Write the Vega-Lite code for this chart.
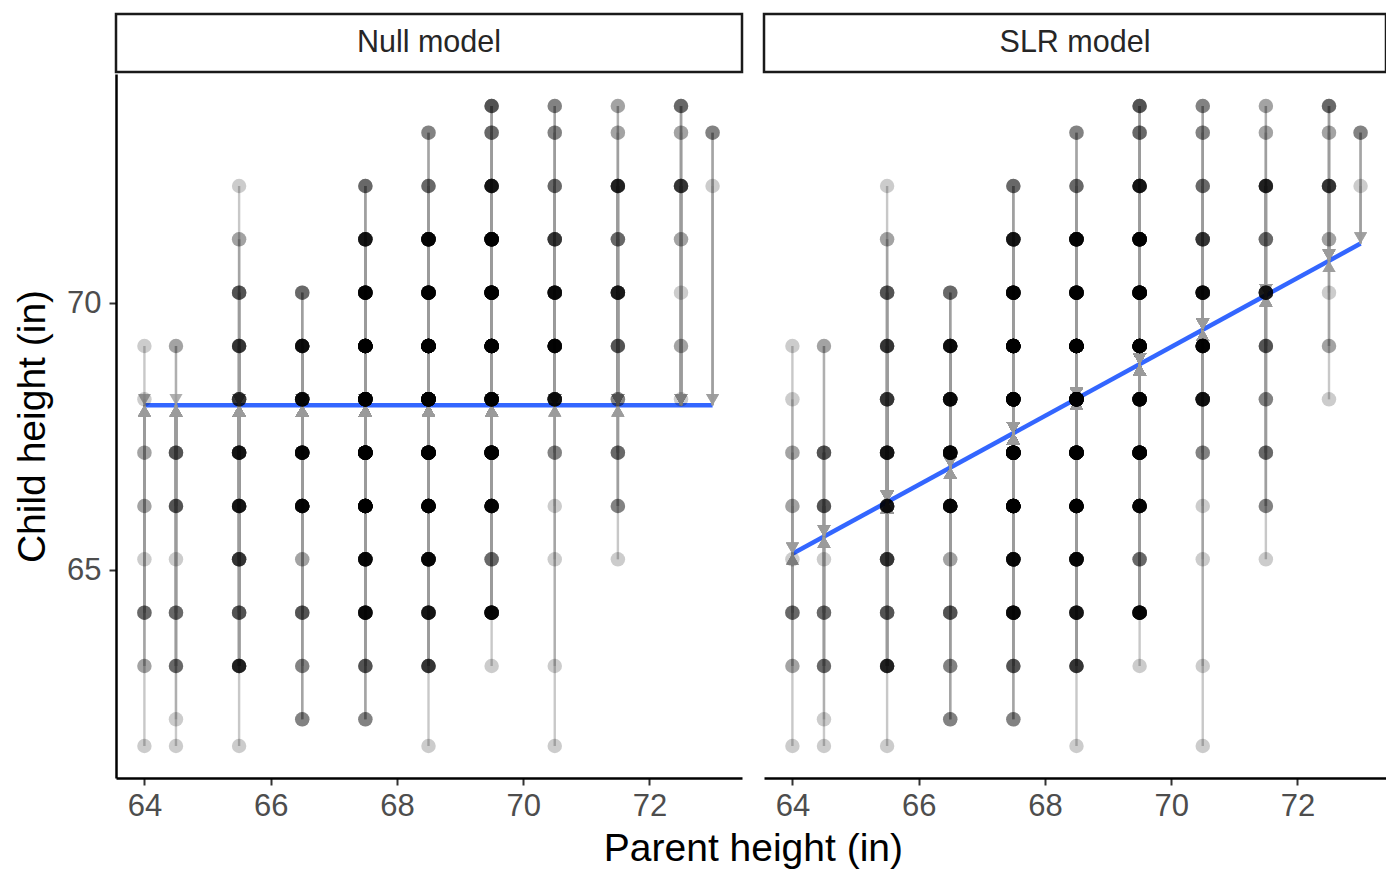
{
  "$schema": "https://vega.github.io/schema/vega-lite/v6.json",
  "background": "white",
  "padding": {"left": 13, "top": 12, "right": 0, "bottom": 0},
  "autosize": {"type": "pad"},
  "config": {
    "font": "Liberation Sans",
    "view": {"stroke": null},
    "concat": {"spacing": 18}
  },
  "title": {
    "text": "Parent height (in)",
    "orient": "bottom",
    "anchor": "middle",
    "fontSize": 39,
    "fontWeight": "normal",
    "color": "#000000",
    "offset": 9,
    "dx": 53
  },
  "datasets": {
    "galton": [
      {"parent":64,"child":69.2},
      {"parent":64,"child":68.2},
      {"parent":64,"child":67.2},{"parent":64,"child":67.2},
      {"parent":64,"child":66.2},{"parent":64,"child":66.2},
      {"parent":64,"child":65.2},
      {"parent":64,"child":64.2},{"parent":64,"child":64.2},{"parent":64,"child":64.2},{"parent":64,"child":64.2},
      {"parent":64,"child":63.2},{"parent":64,"child":63.2},
      {"parent":64,"child":61.7},

      {"parent":64.5,"child":69.2},{"parent":64.5,"child":69.2},
      {"parent":64.5,"child":67.2},{"parent":64.5,"child":67.2},{"parent":64.5,"child":67.2},{"parent":64.5,"child":67.2},{"parent":64.5,"child":67.2},
      {"parent":64.5,"child":66.2},{"parent":64.5,"child":66.2},{"parent":64.5,"child":66.2},{"parent":64.5,"child":66.2},{"parent":64.5,"child":66.2},
      {"parent":64.5,"child":65.2},
      {"parent":64.5,"child":64.2},{"parent":64.5,"child":64.2},{"parent":64.5,"child":64.2},{"parent":64.5,"child":64.2},
      {"parent":64.5,"child":63.2},{"parent":64.5,"child":63.2},{"parent":64.5,"child":63.2},{"parent":64.5,"child":63.2},
      {"parent":64.5,"child":62.2},
      {"parent":64.5,"child":61.7},

      {"parent":65.5,"child":72.2},
      {"parent":65.5,"child":71.2},{"parent":65.5,"child":71.2},
      {"parent":65.5,"child":70.2},{"parent":65.5,"child":70.2},{"parent":65.5,"child":70.2},{"parent":65.5,"child":70.2},{"parent":65.5,"child":70.2},
      {"parent":65.5,"child":69.2},{"parent":65.5,"child":69.2},{"parent":65.5,"child":69.2},{"parent":65.5,"child":69.2},{"parent":65.5,"child":69.2},
      {"parent":65.5,"child":69.2},{"parent":65.5,"child":69.2},
      {"parent":65.5,"child":68.2},{"parent":65.5,"child":68.2},{"parent":65.5,"child":68.2},{"parent":65.5,"child":68.2},{"parent":65.5,"child":68.2},
      {"parent":65.5,"child":68.2},{"parent":65.5,"child":68.2},
      {"parent":65.5,"child":67.2},{"parent":65.5,"child":67.2},{"parent":65.5,"child":67.2},{"parent":65.5,"child":67.2},{"parent":65.5,"child":67.2},
      {"parent":65.5,"child":67.2},{"parent":65.5,"child":67.2},{"parent":65.5,"child":67.2},{"parent":65.5,"child":67.2},{"parent":65.5,"child":67.2},
      {"parent":65.5,"child":67.2},
      {"parent":65.5,"child":66.2},{"parent":65.5,"child":66.2},{"parent":65.5,"child":66.2},{"parent":65.5,"child":66.2},{"parent":65.5,"child":66.2},
      {"parent":65.5,"child":66.2},{"parent":65.5,"child":66.2},{"parent":65.5,"child":66.2},{"parent":65.5,"child":66.2},{"parent":65.5,"child":66.2},
      {"parent":65.5,"child":66.2},
      {"parent":65.5,"child":65.2},{"parent":65.5,"child":65.2},{"parent":65.5,"child":65.2},{"parent":65.5,"child":65.2},{"parent":65.5,"child":65.2},
      {"parent":65.5,"child":65.2},{"parent":65.5,"child":65.2},
      {"parent":65.5,"child":64.2},{"parent":65.5,"child":64.2},{"parent":65.5,"child":64.2},{"parent":65.5,"child":64.2},{"parent":65.5,"child":64.2},
      {"parent":65.5,"child":63.2},{"parent":65.5,"child":63.2},{"parent":65.5,"child":63.2},{"parent":65.5,"child":63.2},{"parent":65.5,"child":63.2},
      {"parent":65.5,"child":63.2},{"parent":65.5,"child":63.2},{"parent":65.5,"child":63.2},{"parent":65.5,"child":63.2},
      {"parent":65.5,"child":61.7},

      {"parent":66.5,"child":70.2},{"parent":66.5,"child":70.2},{"parent":66.5,"child":70.2},{"parent":66.5,"child":70.2},
      {"parent":66.5,"child":69.2},{"parent":66.5,"child":69.2},{"parent":66.5,"child":69.2},{"parent":66.5,"child":69.2},{"parent":66.5,"child":69.2},
      {"parent":66.5,"child":69.2},{"parent":66.5,"child":69.2},{"parent":66.5,"child":69.2},{"parent":66.5,"child":69.2},{"parent":66.5,"child":69.2},
      {"parent":66.5,"child":69.2},{"parent":66.5,"child":69.2},{"parent":66.5,"child":69.2},
      {"parent":66.5,"child":68.2},{"parent":66.5,"child":68.2},{"parent":66.5,"child":68.2},{"parent":66.5,"child":68.2},{"parent":66.5,"child":68.2},
      {"parent":66.5,"child":68.2},{"parent":66.5,"child":68.2},{"parent":66.5,"child":68.2},{"parent":66.5,"child":68.2},{"parent":66.5,"child":68.2},
      {"parent":66.5,"child":68.2},{"parent":66.5,"child":68.2},{"parent":66.5,"child":68.2},{"parent":66.5,"child":68.2},
      {"parent":66.5,"child":67.2},{"parent":66.5,"child":67.2},{"parent":66.5,"child":67.2},{"parent":66.5,"child":67.2},{"parent":66.5,"child":67.2},
      {"parent":66.5,"child":67.2},{"parent":66.5,"child":67.2},{"parent":66.5,"child":67.2},{"parent":66.5,"child":67.2},{"parent":66.5,"child":67.2},
      {"parent":66.5,"child":67.2},{"parent":66.5,"child":67.2},{"parent":66.5,"child":67.2},{"parent":66.5,"child":67.2},{"parent":66.5,"child":67.2},
      {"parent":66.5,"child":67.2},{"parent":66.5,"child":67.2},
      {"parent":66.5,"child":66.2},{"parent":66.5,"child":66.2},{"parent":66.5,"child":66.2},{"parent":66.5,"child":66.2},{"parent":66.5,"child":66.2},
      {"parent":66.5,"child":66.2},{"parent":66.5,"child":66.2},{"parent":66.5,"child":66.2},{"parent":66.5,"child":66.2},{"parent":66.5,"child":66.2},
      {"parent":66.5,"child":66.2},{"parent":66.5,"child":66.2},{"parent":66.5,"child":66.2},{"parent":66.5,"child":66.2},{"parent":66.5,"child":66.2},
      {"parent":66.5,"child":66.2},{"parent":66.5,"child":66.2},
      {"parent":66.5,"child":65.2},{"parent":66.5,"child":65.2},
      {"parent":66.5,"child":64.2},{"parent":66.5,"child":64.2},{"parent":66.5,"child":64.2},{"parent":66.5,"child":64.2},{"parent":66.5,"child":64.2},
      {"parent":66.5,"child":63.2},{"parent":66.5,"child":63.2},{"parent":66.5,"child":63.2},
      {"parent":66.5,"child":62.2},{"parent":66.5,"child":62.2},{"parent":66.5,"child":62.2},

      {"parent":67.5,"child":72.2},{"parent":67.5,"child":72.2},{"parent":67.5,"child":72.2},{"parent":67.5,"child":72.2},
      {"parent":67.5,"child":71.2},{"parent":67.5,"child":71.2},{"parent":67.5,"child":71.2},{"parent":67.5,"child":71.2},{"parent":67.5,"child":71.2},
      {"parent":67.5,"child":71.2},{"parent":67.5,"child":71.2},{"parent":67.5,"child":71.2},{"parent":67.5,"child":71.2},{"parent":67.5,"child":71.2},
      {"parent":67.5,"child":71.2},
      {"parent":67.5,"child":70.2},{"parent":67.5,"child":70.2},{"parent":67.5,"child":70.2},{"parent":67.5,"child":70.2},{"parent":67.5,"child":70.2},
      {"parent":67.5,"child":70.2},{"parent":67.5,"child":70.2},{"parent":67.5,"child":70.2},{"parent":67.5,"child":70.2},{"parent":67.5,"child":70.2},
      {"parent":67.5,"child":70.2},{"parent":67.5,"child":70.2},{"parent":67.5,"child":70.2},{"parent":67.5,"child":70.2},{"parent":67.5,"child":70.2},
      {"parent":67.5,"child":70.2},{"parent":67.5,"child":70.2},{"parent":67.5,"child":70.2},{"parent":67.5,"child":70.2},
      {"parent":67.5,"child":69.2},{"parent":67.5,"child":69.2},{"parent":67.5,"child":69.2},{"parent":67.5,"child":69.2},{"parent":67.5,"child":69.2},
      {"parent":67.5,"child":69.2},{"parent":67.5,"child":69.2},{"parent":67.5,"child":69.2},{"parent":67.5,"child":69.2},{"parent":67.5,"child":69.2},
      {"parent":67.5,"child":69.2},{"parent":67.5,"child":69.2},{"parent":67.5,"child":69.2},{"parent":67.5,"child":69.2},{"parent":67.5,"child":69.2},
      {"parent":67.5,"child":69.2},{"parent":67.5,"child":69.2},{"parent":67.5,"child":69.2},{"parent":67.5,"child":69.2},{"parent":67.5,"child":69.2},
      {"parent":67.5,"child":69.2},{"parent":67.5,"child":69.2},{"parent":67.5,"child":69.2},{"parent":67.5,"child":69.2},{"parent":67.5,"child":69.2},
      {"parent":67.5,"child":69.2},{"parent":67.5,"child":69.2},{"parent":67.5,"child":69.2},{"parent":67.5,"child":69.2},{"parent":67.5,"child":69.2},
      {"parent":67.5,"child":69.2},{"parent":67.5,"child":69.2},{"parent":67.5,"child":69.2},{"parent":67.5,"child":69.2},{"parent":67.5,"child":69.2},
      {"parent":67.5,"child":69.2},{"parent":67.5,"child":69.2},{"parent":67.5,"child":69.2},
      {"parent":67.5,"child":68.2},{"parent":67.5,"child":68.2},{"parent":67.5,"child":68.2},{"parent":67.5,"child":68.2},{"parent":67.5,"child":68.2},
      {"parent":67.5,"child":68.2},{"parent":67.5,"child":68.2},{"parent":67.5,"child":68.2},{"parent":67.5,"child":68.2},{"parent":67.5,"child":68.2},
      {"parent":67.5,"child":68.2},{"parent":67.5,"child":68.2},{"parent":67.5,"child":68.2},{"parent":67.5,"child":68.2},{"parent":67.5,"child":68.2},
      {"parent":67.5,"child":68.2},{"parent":67.5,"child":68.2},{"parent":67.5,"child":68.2},{"parent":67.5,"child":68.2},{"parent":67.5,"child":68.2},
      {"parent":67.5,"child":68.2},{"parent":67.5,"child":68.2},{"parent":67.5,"child":68.2},{"parent":67.5,"child":68.2},{"parent":67.5,"child":68.2},
      {"parent":67.5,"child":68.2},{"parent":67.5,"child":68.2},{"parent":67.5,"child":68.2},
      {"parent":67.5,"child":67.2},{"parent":67.5,"child":67.2},{"parent":67.5,"child":67.2},{"parent":67.5,"child":67.2},{"parent":67.5,"child":67.2},
      {"parent":67.5,"child":67.2},{"parent":67.5,"child":67.2},{"parent":67.5,"child":67.2},{"parent":67.5,"child":67.2},{"parent":67.5,"child":67.2},
      {"parent":67.5,"child":67.2},{"parent":67.5,"child":67.2},{"parent":67.5,"child":67.2},{"parent":67.5,"child":67.2},{"parent":67.5,"child":67.2},
      {"parent":67.5,"child":67.2},{"parent":67.5,"child":67.2},{"parent":67.5,"child":67.2},{"parent":67.5,"child":67.2},{"parent":67.5,"child":67.2},
      {"parent":67.5,"child":67.2},{"parent":67.5,"child":67.2},{"parent":67.5,"child":67.2},{"parent":67.5,"child":67.2},{"parent":67.5,"child":67.2},
      {"parent":67.5,"child":67.2},{"parent":67.5,"child":67.2},{"parent":67.5,"child":67.2},{"parent":67.5,"child":67.2},{"parent":67.5,"child":67.2},
      {"parent":67.5,"child":67.2},{"parent":67.5,"child":67.2},{"parent":67.5,"child":67.2},{"parent":67.5,"child":67.2},{"parent":67.5,"child":67.2},
      {"parent":67.5,"child":67.2},{"parent":67.5,"child":67.2},{"parent":67.5,"child":67.2},
      {"parent":67.5,"child":66.2},{"parent":67.5,"child":66.2},{"parent":67.5,"child":66.2},{"parent":67.5,"child":66.2},{"parent":67.5,"child":66.2},
      {"parent":67.5,"child":66.2},{"parent":67.5,"child":66.2},{"parent":67.5,"child":66.2},{"parent":67.5,"child":66.2},{"parent":67.5,"child":66.2},
      {"parent":67.5,"child":66.2},{"parent":67.5,"child":66.2},{"parent":67.5,"child":66.2},{"parent":67.5,"child":66.2},{"parent":67.5,"child":66.2},
      {"parent":67.5,"child":66.2},{"parent":67.5,"child":66.2},{"parent":67.5,"child":66.2},{"parent":67.5,"child":66.2},{"parent":67.5,"child":66.2},
      {"parent":67.5,"child":66.2},{"parent":67.5,"child":66.2},{"parent":67.5,"child":66.2},{"parent":67.5,"child":66.2},{"parent":67.5,"child":66.2},
      {"parent":67.5,"child":66.2},{"parent":67.5,"child":66.2},{"parent":67.5,"child":66.2},{"parent":67.5,"child":66.2},{"parent":67.5,"child":66.2},
      {"parent":67.5,"child":66.2},{"parent":67.5,"child":66.2},{"parent":67.5,"child":66.2},{"parent":67.5,"child":66.2},{"parent":67.5,"child":66.2},
      {"parent":67.5,"child":66.2},
      {"parent":67.5,"child":65.2},{"parent":67.5,"child":65.2},{"parent":67.5,"child":65.2},{"parent":67.5,"child":65.2},{"parent":67.5,"child":65.2},
      {"parent":67.5,"child":65.2},{"parent":67.5,"child":65.2},{"parent":67.5,"child":65.2},{"parent":67.5,"child":65.2},{"parent":67.5,"child":65.2},
      {"parent":67.5,"child":65.2},{"parent":67.5,"child":65.2},{"parent":67.5,"child":65.2},{"parent":67.5,"child":65.2},{"parent":67.5,"child":65.2},
      {"parent":67.5,"child":64.2},{"parent":67.5,"child":64.2},{"parent":67.5,"child":64.2},{"parent":67.5,"child":64.2},{"parent":67.5,"child":64.2},
      {"parent":67.5,"child":64.2},{"parent":67.5,"child":64.2},{"parent":67.5,"child":64.2},{"parent":67.5,"child":64.2},{"parent":67.5,"child":64.2},
      {"parent":67.5,"child":64.2},{"parent":67.5,"child":64.2},{"parent":67.5,"child":64.2},{"parent":67.5,"child":64.2},
      {"parent":67.5,"child":63.2},{"parent":67.5,"child":63.2},{"parent":67.5,"child":63.2},{"parent":67.5,"child":63.2},{"parent":67.5,"child":63.2},
      {"parent":67.5,"child":62.2},{"parent":67.5,"child":62.2},{"parent":67.5,"child":62.2},

      {"parent":68.5,"child":73.2},{"parent":68.5,"child":73.2},{"parent":68.5,"child":73.2},
      {"parent":68.5,"child":72.2},{"parent":68.5,"child":72.2},{"parent":68.5,"child":72.2},{"parent":68.5,"child":72.2},
      {"parent":68.5,"child":71.2},{"parent":68.5,"child":71.2},{"parent":68.5,"child":71.2},{"parent":68.5,"child":71.2},{"parent":68.5,"child":71.2},
      {"parent":68.5,"child":71.2},{"parent":68.5,"child":71.2},{"parent":68.5,"child":71.2},{"parent":68.5,"child":71.2},{"parent":68.5,"child":71.2},
      {"parent":68.5,"child":71.2},{"parent":68.5,"child":71.2},{"parent":68.5,"child":71.2},{"parent":68.5,"child":71.2},{"parent":68.5,"child":71.2},
      {"parent":68.5,"child":71.2},{"parent":68.5,"child":71.2},{"parent":68.5,"child":71.2},
      {"parent":68.5,"child":70.2},{"parent":68.5,"child":70.2},{"parent":68.5,"child":70.2},{"parent":68.5,"child":70.2},{"parent":68.5,"child":70.2},
      {"parent":68.5,"child":70.2},{"parent":68.5,"child":70.2},{"parent":68.5,"child":70.2},{"parent":68.5,"child":70.2},{"parent":68.5,"child":70.2},
      {"parent":68.5,"child":70.2},{"parent":68.5,"child":70.2},{"parent":68.5,"child":70.2},{"parent":68.5,"child":70.2},{"parent":68.5,"child":70.2},
      {"parent":68.5,"child":70.2},{"parent":68.5,"child":70.2},{"parent":68.5,"child":70.2},{"parent":68.5,"child":70.2},{"parent":68.5,"child":70.2},
      {"parent":68.5,"child":70.2},
      {"parent":68.5,"child":69.2},{"parent":68.5,"child":69.2},{"parent":68.5,"child":69.2},{"parent":68.5,"child":69.2},{"parent":68.5,"child":69.2},
      {"parent":68.5,"child":69.2},{"parent":68.5,"child":69.2},{"parent":68.5,"child":69.2},{"parent":68.5,"child":69.2},{"parent":68.5,"child":69.2},
      {"parent":68.5,"child":69.2},{"parent":68.5,"child":69.2},{"parent":68.5,"child":69.2},{"parent":68.5,"child":69.2},{"parent":68.5,"child":69.2},
      {"parent":68.5,"child":69.2},{"parent":68.5,"child":69.2},{"parent":68.5,"child":69.2},{"parent":68.5,"child":69.2},{"parent":68.5,"child":69.2},
      {"parent":68.5,"child":69.2},{"parent":68.5,"child":69.2},{"parent":68.5,"child":69.2},{"parent":68.5,"child":69.2},{"parent":68.5,"child":69.2},
      {"parent":68.5,"child":69.2},{"parent":68.5,"child":69.2},{"parent":68.5,"child":69.2},{"parent":68.5,"child":69.2},{"parent":68.5,"child":69.2},
      {"parent":68.5,"child":69.2},{"parent":68.5,"child":69.2},{"parent":68.5,"child":69.2},{"parent":68.5,"child":69.2},{"parent":68.5,"child":69.2},
      {"parent":68.5,"child":69.2},{"parent":68.5,"child":69.2},{"parent":68.5,"child":69.2},{"parent":68.5,"child":69.2},{"parent":68.5,"child":69.2},
      {"parent":68.5,"child":69.2},{"parent":68.5,"child":69.2},{"parent":68.5,"child":69.2},{"parent":68.5,"child":69.2},{"parent":68.5,"child":69.2},
      {"parent":68.5,"child":69.2},{"parent":68.5,"child":69.2},{"parent":68.5,"child":69.2},
      {"parent":68.5,"child":68.2},{"parent":68.5,"child":68.2},{"parent":68.5,"child":68.2},{"parent":68.5,"child":68.2},{"parent":68.5,"child":68.2},
      {"parent":68.5,"child":68.2},{"parent":68.5,"child":68.2},{"parent":68.5,"child":68.2},{"parent":68.5,"child":68.2},{"parent":68.5,"child":68.2},
      {"parent":68.5,"child":68.2},{"parent":68.5,"child":68.2},{"parent":68.5,"child":68.2},{"parent":68.5,"child":68.2},{"parent":68.5,"child":68.2},
      {"parent":68.5,"child":68.2},{"parent":68.5,"child":68.2},{"parent":68.5,"child":68.2},{"parent":68.5,"child":68.2},{"parent":68.5,"child":68.2},
      {"parent":68.5,"child":68.2},{"parent":68.5,"child":68.2},{"parent":68.5,"child":68.2},{"parent":68.5,"child":68.2},{"parent":68.5,"child":68.2},
      {"parent":68.5,"child":68.2},{"parent":68.5,"child":68.2},{"parent":68.5,"child":68.2},{"parent":68.5,"child":68.2},{"parent":68.5,"child":68.2},
      {"parent":68.5,"child":68.2},{"parent":68.5,"child":68.2},{"parent":68.5,"child":68.2},{"parent":68.5,"child":68.2},
      {"parent":68.5,"child":67.2},{"parent":68.5,"child":67.2},{"parent":68.5,"child":67.2},{"parent":68.5,"child":67.2},{"parent":68.5,"child":67.2},
      {"parent":68.5,"child":67.2},{"parent":68.5,"child":67.2},{"parent":68.5,"child":67.2},{"parent":68.5,"child":67.2},{"parent":68.5,"child":67.2},
      {"parent":68.5,"child":67.2},{"parent":68.5,"child":67.2},{"parent":68.5,"child":67.2},{"parent":68.5,"child":67.2},{"parent":68.5,"child":67.2},
      {"parent":68.5,"child":67.2},{"parent":68.5,"child":67.2},{"parent":68.5,"child":67.2},{"parent":68.5,"child":67.2},{"parent":68.5,"child":67.2},
      {"parent":68.5,"child":67.2},{"parent":68.5,"child":67.2},{"parent":68.5,"child":67.2},{"parent":68.5,"child":67.2},{"parent":68.5,"child":67.2},
      {"parent":68.5,"child":67.2},{"parent":68.5,"child":67.2},{"parent":68.5,"child":67.2},{"parent":68.5,"child":67.2},{"parent":68.5,"child":67.2},
      {"parent":68.5,"child":67.2},
      {"parent":68.5,"child":66.2},{"parent":68.5,"child":66.2},{"parent":68.5,"child":66.2},{"parent":68.5,"child":66.2},{"parent":68.5,"child":66.2},
      {"parent":68.5,"child":66.2},{"parent":68.5,"child":66.2},{"parent":68.5,"child":66.2},{"parent":68.5,"child":66.2},{"parent":68.5,"child":66.2},
      {"parent":68.5,"child":66.2},{"parent":68.5,"child":66.2},{"parent":68.5,"child":66.2},{"parent":68.5,"child":66.2},{"parent":68.5,"child":66.2},
      {"parent":68.5,"child":66.2},{"parent":68.5,"child":66.2},{"parent":68.5,"child":66.2},{"parent":68.5,"child":66.2},{"parent":68.5,"child":66.2},
      {"parent":68.5,"child":66.2},{"parent":68.5,"child":66.2},{"parent":68.5,"child":66.2},{"parent":68.5,"child":66.2},{"parent":68.5,"child":66.2},
      {"parent":68.5,"child":65.2},{"parent":68.5,"child":65.2},{"parent":68.5,"child":65.2},{"parent":68.5,"child":65.2},{"parent":68.5,"child":65.2},
      {"parent":68.5,"child":65.2},{"parent":68.5,"child":65.2},{"parent":68.5,"child":65.2},{"parent":68.5,"child":65.2},{"parent":68.5,"child":65.2},
      {"parent":68.5,"child":65.2},{"parent":68.5,"child":65.2},{"parent":68.5,"child":65.2},{"parent":68.5,"child":65.2},{"parent":68.5,"child":65.2},
      {"parent":68.5,"child":65.2},
      {"parent":68.5,"child":64.2},{"parent":68.5,"child":64.2},{"parent":68.5,"child":64.2},{"parent":68.5,"child":64.2},{"parent":68.5,"child":64.2},
      {"parent":68.5,"child":64.2},{"parent":68.5,"child":64.2},{"parent":68.5,"child":64.2},{"parent":68.5,"child":64.2},{"parent":68.5,"child":64.2},
      {"parent":68.5,"child":64.2},
      {"parent":68.5,"child":63.2},{"parent":68.5,"child":63.2},{"parent":68.5,"child":63.2},{"parent":68.5,"child":63.2},{"parent":68.5,"child":63.2},
      {"parent":68.5,"child":63.2},{"parent":68.5,"child":63.2},
      {"parent":68.5,"child":61.7},

      {"parent":69.5,"child":73.7},{"parent":69.5,"child":73.7},{"parent":69.5,"child":73.7},{"parent":69.5,"child":73.7},{"parent":69.5,"child":73.7},
      {"parent":69.5,"child":73.2},{"parent":69.5,"child":73.2},{"parent":69.5,"child":73.2},{"parent":69.5,"child":73.2},
      {"parent":69.5,"child":72.2},{"parent":69.5,"child":72.2},{"parent":69.5,"child":72.2},{"parent":69.5,"child":72.2},{"parent":69.5,"child":72.2},
      {"parent":69.5,"child":72.2},{"parent":69.5,"child":72.2},{"parent":69.5,"child":72.2},{"parent":69.5,"child":72.2},{"parent":69.5,"child":72.2},
      {"parent":69.5,"child":72.2},
      {"parent":69.5,"child":71.2},{"parent":69.5,"child":71.2},{"parent":69.5,"child":71.2},{"parent":69.5,"child":71.2},{"parent":69.5,"child":71.2},
      {"parent":69.5,"child":71.2},{"parent":69.5,"child":71.2},{"parent":69.5,"child":71.2},{"parent":69.5,"child":71.2},{"parent":69.5,"child":71.2},
      {"parent":69.5,"child":71.2},{"parent":69.5,"child":71.2},{"parent":69.5,"child":71.2},{"parent":69.5,"child":71.2},{"parent":69.5,"child":71.2},
      {"parent":69.5,"child":71.2},{"parent":69.5,"child":71.2},{"parent":69.5,"child":71.2},{"parent":69.5,"child":71.2},{"parent":69.5,"child":71.2},
      {"parent":69.5,"child":70.2},{"parent":69.5,"child":70.2},{"parent":69.5,"child":70.2},{"parent":69.5,"child":70.2},{"parent":69.5,"child":70.2},
      {"parent":69.5,"child":70.2},{"parent":69.5,"child":70.2},{"parent":69.5,"child":70.2},{"parent":69.5,"child":70.2},{"parent":69.5,"child":70.2},
      {"parent":69.5,"child":70.2},{"parent":69.5,"child":70.2},{"parent":69.5,"child":70.2},{"parent":69.5,"child":70.2},{"parent":69.5,"child":70.2},
      {"parent":69.5,"child":70.2},{"parent":69.5,"child":70.2},{"parent":69.5,"child":70.2},{"parent":69.5,"child":70.2},{"parent":69.5,"child":70.2},
      {"parent":69.5,"child":70.2},{"parent":69.5,"child":70.2},{"parent":69.5,"child":70.2},{"parent":69.5,"child":70.2},{"parent":69.5,"child":70.2},
      {"parent":69.5,"child":69.2},{"parent":69.5,"child":69.2},{"parent":69.5,"child":69.2},{"parent":69.5,"child":69.2},{"parent":69.5,"child":69.2},
      {"parent":69.5,"child":69.2},{"parent":69.5,"child":69.2},{"parent":69.5,"child":69.2},{"parent":69.5,"child":69.2},{"parent":69.5,"child":69.2},
      {"parent":69.5,"child":69.2},{"parent":69.5,"child":69.2},{"parent":69.5,"child":69.2},{"parent":69.5,"child":69.2},{"parent":69.5,"child":69.2},
      {"parent":69.5,"child":69.2},{"parent":69.5,"child":69.2},{"parent":69.5,"child":69.2},{"parent":69.5,"child":69.2},{"parent":69.5,"child":69.2},
      {"parent":69.5,"child":69.2},{"parent":69.5,"child":69.2},{"parent":69.5,"child":69.2},{"parent":69.5,"child":69.2},{"parent":69.5,"child":69.2},
      {"parent":69.5,"child":69.2},{"parent":69.5,"child":69.2},{"parent":69.5,"child":69.2},{"parent":69.5,"child":69.2},{"parent":69.5,"child":69.2},
      {"parent":69.5,"child":69.2},{"parent":69.5,"child":69.2},{"parent":69.5,"child":69.2},
      {"parent":69.5,"child":68.2},{"parent":69.5,"child":68.2},{"parent":69.5,"child":68.2},{"parent":69.5,"child":68.2},{"parent":69.5,"child":68.2},
      {"parent":69.5,"child":68.2},{"parent":69.5,"child":68.2},{"parent":69.5,"child":68.2},{"parent":69.5,"child":68.2},{"parent":69.5,"child":68.2},
      {"parent":69.5,"child":68.2},{"parent":69.5,"child":68.2},{"parent":69.5,"child":68.2},{"parent":69.5,"child":68.2},{"parent":69.5,"child":68.2},
      {"parent":69.5,"child":68.2},{"parent":69.5,"child":68.2},{"parent":69.5,"child":68.2},{"parent":69.5,"child":68.2},{"parent":69.5,"child":68.2},
      {"parent":69.5,"child":67.2},{"parent":69.5,"child":67.2},{"parent":69.5,"child":67.2},{"parent":69.5,"child":67.2},{"parent":69.5,"child":67.2},
      {"parent":69.5,"child":67.2},{"parent":69.5,"child":67.2},{"parent":69.5,"child":67.2},{"parent":69.5,"child":67.2},{"parent":69.5,"child":67.2},
      {"parent":69.5,"child":67.2},{"parent":69.5,"child":67.2},{"parent":69.5,"child":67.2},{"parent":69.5,"child":67.2},{"parent":69.5,"child":67.2},
      {"parent":69.5,"child":67.2},{"parent":69.5,"child":67.2},{"parent":69.5,"child":67.2},{"parent":69.5,"child":67.2},{"parent":69.5,"child":67.2},
      {"parent":69.5,"child":67.2},{"parent":69.5,"child":67.2},{"parent":69.5,"child":67.2},{"parent":69.5,"child":67.2},{"parent":69.5,"child":67.2},
      {"parent":69.5,"child":67.2},{"parent":69.5,"child":67.2},
      {"parent":69.5,"child":66.2},{"parent":69.5,"child":66.2},{"parent":69.5,"child":66.2},{"parent":69.5,"child":66.2},{"parent":69.5,"child":66.2},
      {"parent":69.5,"child":66.2},{"parent":69.5,"child":66.2},{"parent":69.5,"child":66.2},{"parent":69.5,"child":66.2},{"parent":69.5,"child":66.2},
      {"parent":69.5,"child":66.2},{"parent":69.5,"child":66.2},{"parent":69.5,"child":66.2},{"parent":69.5,"child":66.2},{"parent":69.5,"child":66.2},
      {"parent":69.5,"child":66.2},{"parent":69.5,"child":66.2},
      {"parent":69.5,"child":65.2},{"parent":69.5,"child":65.2},{"parent":69.5,"child":65.2},{"parent":69.5,"child":65.2},
      {"parent":69.5,"child":64.2},{"parent":69.5,"child":64.2},{"parent":69.5,"child":64.2},{"parent":69.5,"child":64.2},{"parent":69.5,"child":64.2},
      {"parent":69.5,"child":64.2},{"parent":69.5,"child":64.2},{"parent":69.5,"child":64.2},{"parent":69.5,"child":64.2},{"parent":69.5,"child":64.2},
      {"parent":69.5,"child":64.2},{"parent":69.5,"child":64.2},{"parent":69.5,"child":64.2},{"parent":69.5,"child":64.2},{"parent":69.5,"child":64.2},
      {"parent":69.5,"child":64.2},
      {"parent":69.5,"child":63.2},

      {"parent":70.5,"child":73.7},{"parent":70.5,"child":73.7},{"parent":70.5,"child":73.7},
      {"parent":70.5,"child":73.2},{"parent":70.5,"child":73.2},{"parent":70.5,"child":73.2},
      {"parent":70.5,"child":72.2},{"parent":70.5,"child":72.2},{"parent":70.5,"child":72.2},{"parent":70.5,"child":72.2},
      {"parent":70.5,"child":71.2},{"parent":70.5,"child":71.2},{"parent":70.5,"child":71.2},{"parent":70.5,"child":71.2},{"parent":70.5,"child":71.2},
      {"parent":70.5,"child":71.2},{"parent":70.5,"child":71.2},
      {"parent":70.5,"child":70.2},{"parent":70.5,"child":70.2},{"parent":70.5,"child":70.2},{"parent":70.5,"child":70.2},{"parent":70.5,"child":70.2},
      {"parent":70.5,"child":70.2},{"parent":70.5,"child":70.2},{"parent":70.5,"child":70.2},{"parent":70.5,"child":70.2},{"parent":70.5,"child":70.2},
      {"parent":70.5,"child":70.2},{"parent":70.5,"child":70.2},{"parent":70.5,"child":70.2},{"parent":70.5,"child":70.2},
      {"parent":70.5,"child":69.2},{"parent":70.5,"child":69.2},{"parent":70.5,"child":69.2},{"parent":70.5,"child":69.2},{"parent":70.5,"child":69.2},
      {"parent":70.5,"child":69.2},{"parent":70.5,"child":69.2},{"parent":70.5,"child":69.2},{"parent":70.5,"child":69.2},{"parent":70.5,"child":69.2},
      {"parent":70.5,"child":69.2},{"parent":70.5,"child":69.2},{"parent":70.5,"child":69.2},{"parent":70.5,"child":69.2},{"parent":70.5,"child":69.2},
      {"parent":70.5,"child":69.2},{"parent":70.5,"child":69.2},{"parent":70.5,"child":69.2},
      {"parent":70.5,"child":68.2},{"parent":70.5,"child":68.2},{"parent":70.5,"child":68.2},{"parent":70.5,"child":68.2},{"parent":70.5,"child":68.2},
      {"parent":70.5,"child":68.2},{"parent":70.5,"child":68.2},{"parent":70.5,"child":68.2},{"parent":70.5,"child":68.2},{"parent":70.5,"child":68.2},
      {"parent":70.5,"child":68.2},{"parent":70.5,"child":68.2},
      {"parent":70.5,"child":67.2},{"parent":70.5,"child":67.2},{"parent":70.5,"child":67.2},
      {"parent":70.5,"child":66.2},
      {"parent":70.5,"child":65.2},
      {"parent":70.5,"child":63.2},
      {"parent":70.5,"child":61.7},

      {"parent":71.5,"child":73.7},{"parent":71.5,"child":73.7},
      {"parent":71.5,"child":73.2},{"parent":71.5,"child":73.2},
      {"parent":71.5,"child":72.2},{"parent":71.5,"child":72.2},{"parent":71.5,"child":72.2},{"parent":71.5,"child":72.2},{"parent":71.5,"child":72.2},
      {"parent":71.5,"child":72.2},{"parent":71.5,"child":72.2},{"parent":71.5,"child":72.2},{"parent":71.5,"child":72.2},
      {"parent":71.5,"child":71.2},{"parent":71.5,"child":71.2},{"parent":71.5,"child":71.2},{"parent":71.5,"child":71.2},
      {"parent":71.5,"child":70.2},{"parent":71.5,"child":70.2},{"parent":71.5,"child":70.2},{"parent":71.5,"child":70.2},{"parent":71.5,"child":70.2},
      {"parent":71.5,"child":70.2},{"parent":71.5,"child":70.2},{"parent":71.5,"child":70.2},{"parent":71.5,"child":70.2},{"parent":71.5,"child":70.2},
      {"parent":71.5,"child":69.2},{"parent":71.5,"child":69.2},{"parent":71.5,"child":69.2},{"parent":71.5,"child":69.2},{"parent":71.5,"child":69.2},
      {"parent":71.5,"child":68.2},{"parent":71.5,"child":68.2},{"parent":71.5,"child":68.2},
      {"parent":71.5,"child":67.2},{"parent":71.5,"child":67.2},{"parent":71.5,"child":67.2},{"parent":71.5,"child":67.2},
      {"parent":71.5,"child":66.2},{"parent":71.5,"child":66.2},{"parent":71.5,"child":66.2},
      {"parent":71.5,"child":65.2},

      {"parent":72.5,"child":73.7},{"parent":72.5,"child":73.7},{"parent":72.5,"child":73.7},{"parent":72.5,"child":73.7},
      {"parent":72.5,"child":73.2},{"parent":72.5,"child":73.2},
      {"parent":72.5,"child":72.2},{"parent":72.5,"child":72.2},{"parent":72.5,"child":72.2},{"parent":72.5,"child":72.2},{"parent":72.5,"child":72.2},
      {"parent":72.5,"child":72.2},{"parent":72.5,"child":72.2},
      {"parent":72.5,"child":71.2},{"parent":72.5,"child":71.2},
      {"parent":72.5,"child":70.2},
      {"parent":72.5,"child":69.2},{"parent":72.5,"child":69.2},
      {"parent":72.5,"child":68.2},

      {"parent":73,"child":73.2},{"parent":73,"child":73.2},{"parent":73,"child":73.2},
      {"parent":73,"child":72.2}
    ]
  },
  "hconcat": [
    {
      "spacing": 0,
      "vconcat": [
        {
          "width": 626,
          "height": 58,
          "view": {"stroke": "#1a1a1a", "strokeWidth": 2.5, "fill": "white"},
          "data": {"values": [{"model": "Null model"}]},
          "mark": {"type": "text", "fontSize": 30.5, "color": "#262626", "align": "center", "baseline": "middle"},
          "encoding": {"text": {"field": "model"}}
        },
        {
          "width": 626,
          "height": 704,
          "encoding": {
            "x": {
              "field": "parent", "type": "quantitative",
              "scale": {"domain": [63.55, 73.466], "nice": false, "zero": false},
              "axis": {
                "values": [64, 66, 68, 70, 72], "title": null, "grid": false,
                "domainColor": "#000000", "domainWidth": 2.5,
                "tickColor": "#333333", "tickWidth": 2, "tickSize": 7,
                "labelFontSize": 31, "labelColor": "#4d4d4d", "labelPadding": 6
              }
            }
          },
          "layer": [
            {
              "data": {"values": [
                {"parent": 64, "fit": 68.0885}, {"parent": 73, "fit": 68.0885}
              ]},
              "mark": {"type": "line", "color": "#3366FF", "strokeWidth": 4.5},
              "encoding": {
                "y": {
                  "field": "fit", "type": "quantitative",
                  "scale": {"domain": [61.1, 74.3], "nice": false, "zero": false},
                  "axis": {
                    "values": [65, 70], "title": "Child height (in)", "grid": false,
                    "domainColor": "#000000", "domainWidth": 2.5,
                    "tickColor": "#333333", "tickWidth": 2, "tickSize": 7,
                    "labelFontSize": 31, "labelColor": "#4d4d4d", "labelPadding": 8,
                    "titleFontSize": 39, "titleFontWeight": "normal", "titleColor": "#000000", "titlePadding": 14
                  }
                }
              }
            },
            {
              "data": {"name": "galton"},
              "transform": [{"joinaggregate": [{"op": "mean", "field": "child", "as": "fit"}]}],
              "layer": [
                {
                  "mark": {"type": "rule", "color": "#9a9a9a", "opacity": 0.55, "strokeWidth": 2.4},
                  "encoding": {
                    "y": {"field": "child", "type": "quantitative", "scale": {"domain": [61.1, 74.3], "nice": false, "zero": false}},
                    "y2": {"field": "fit"}
                  }
                },
                {
                  "transform": [{"filter": "datum.child > datum.fit"}],
                  "mark": {"type": "point", "shape": "M0,0L-1,-1.73L1,-1.73Z", "filled": true, "size": 169, "color": "#9a9a9a", "opacity": 0.55},
                  "encoding": {
                    "y": {"field": "fit", "type": "quantitative", "scale": {"domain": [61.1, 74.3], "nice": false, "zero": false}}
                  }
                },
                {
                  "transform": [{"filter": "datum.child < datum.fit"}],
                  "mark": {"type": "point", "shape": "M0,0L-1,1.73L1,1.73Z", "filled": true, "size": 169, "color": "#9a9a9a", "opacity": 0.55},
                  "encoding": {
                    "y": {"field": "fit", "type": "quantitative", "scale": {"domain": [61.1, 74.3], "nice": false, "zero": false}}
                  }
                },
                {
                  "mark": {"type": "circle", "color": "#000000", "opacity": 0.2, "size": 210},
                  "encoding": {
                    "y": {"field": "child", "type": "quantitative", "scale": {"domain": [61.1, 74.3], "nice": false, "zero": false}}
                  }
                }
              ]
            }
          ]
        }
      ]
    },
    {
      "spacing": 0,
      "vconcat": [
        {
          "width": 622,
          "height": 58,
          "view": {"stroke": "#1a1a1a", "strokeWidth": 2.5, "fill": "white"},
          "data": {"values": [{"model": "SLR model"}]},
          "mark": {"type": "text", "fontSize": 30.5, "color": "#262626", "align": "center", "baseline": "middle"},
          "encoding": {"text": {"field": "model"}}
        },
        {
          "width": 622,
          "height": 704,
          "encoding": {
            "x": {
              "field": "parent", "type": "quantitative",
              "scale": {"domain": [63.55, 73.403], "nice": false, "zero": false},
              "axis": {
                "values": [64, 66, 68, 70, 72], "title": null, "grid": false,
                "domainColor": "#000000", "domainWidth": 2.5,
                "tickColor": "#333333", "tickWidth": 2, "tickSize": 7,
                "labelFontSize": 31, "labelColor": "#4d4d4d", "labelPadding": 6
              }
            }
          },
          "layer": [
            {
              "data": {"values": [
                {"parent": 64, "fit": 65.3041}, {"parent": 73, "fit": 71.1207}
              ]},
              "mark": {"type": "line", "color": "#3366FF", "strokeWidth": 4.5},
              "encoding": {
                "y": {"field": "fit", "type": "quantitative", "scale": {"domain": [61.1, 74.3], "nice": false, "zero": false}, "axis": null}
              }
            },
            {
              "data": {"name": "galton"},
              "transform": [
                {"lookup": "parent", "from": {"data": {"values": [
                  {"parent": 64, "fit": 65.3041}, {"parent": 64.5, "fit": 65.6272}, {"parent": 65.5, "fit": 66.2735},
                  {"parent": 66.5, "fit": 66.9198}, {"parent": 67.5, "fit": 67.5661}, {"parent": 68.5, "fit": 68.2124},
                  {"parent": 69.5, "fit": 68.8587}, {"parent": 70.5, "fit": 69.505}, {"parent": 71.5, "fit": 70.1513},
                  {"parent": 72.5, "fit": 70.7976}, {"parent": 73, "fit": 71.1207}
                ]}, "key": "parent", "fields": ["fit"]}}
              ],
              "layer": [
                {
                  "mark": {"type": "rule", "color": "#9a9a9a", "opacity": 0.55, "strokeWidth": 2.4},
                  "encoding": {
                    "y": {"field": "child", "type": "quantitative", "scale": {"domain": [61.1, 74.3], "nice": false, "zero": false}, "axis": null},
                    "y2": {"field": "fit"}
                  }
                },
                {
                  "transform": [{"filter": "datum.child > datum.fit"}],
                  "mark": {"type": "point", "shape": "M0,0L-1,-1.73L1,-1.73Z", "filled": true, "size": 169, "color": "#9a9a9a", "opacity": 0.55},
                  "encoding": {
                    "y": {"field": "fit", "type": "quantitative", "scale": {"domain": [61.1, 74.3], "nice": false, "zero": false}, "axis": null}
                  }
                },
                {
                  "transform": [{"filter": "datum.child < datum.fit"}],
                  "mark": {"type": "point", "shape": "M0,0L-1,1.73L1,1.73Z", "filled": true, "size": 169, "color": "#9a9a9a", "opacity": 0.55},
                  "encoding": {
                    "y": {"field": "fit", "type": "quantitative", "scale": {"domain": [61.1, 74.3], "nice": false, "zero": false}, "axis": null}
                  }
                },
                {
                  "mark": {"type": "circle", "color": "#000000", "opacity": 0.2, "size": 210},
                  "encoding": {
                    "y": {"field": "child", "type": "quantitative", "scale": {"domain": [61.1, 74.3], "nice": false, "zero": false}, "axis": null}
                  }
                }
              ]
            }
          ]
        }
      ]
    }
  ]
}
